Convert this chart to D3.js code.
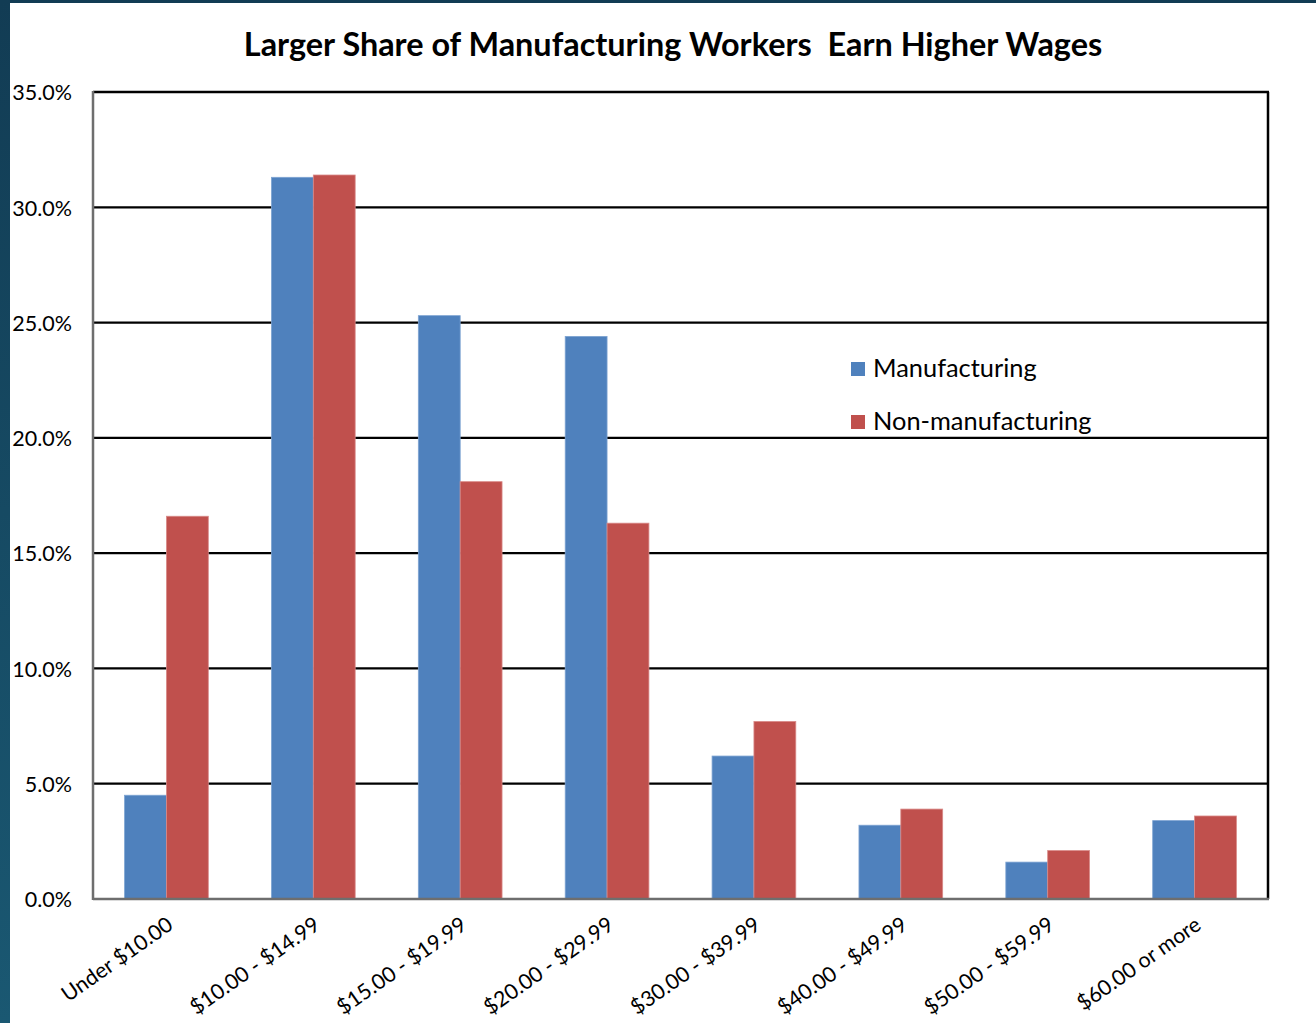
<!DOCTYPE html>
<html>
<head>
<meta charset="utf-8">
<script src="https://cdn.jsdelivr.net/npm/d3@7"></script>
<style>
  html, body { margin: 0; padding: 0; background: #fff; }
  svg { display: block; }
</style>
</head>
<body>
<svg id="chart" width="1316" height="1023"></svg>
<script>
// Hourly wage brackets and the share of workers in each
const categories = ["Under $10.00", "$10.00 - $14.99", "$15.00 - $19.99", "$20.00 - $29.99",
                    "$30.00 - $39.99", "$40.00 - $49.99", "$50.00 - $59.99", "$60.00 or more"];
const manufacturing    = [4.5, 31.3, 25.3, 24.4, 6.2, 3.2, 1.6, 3.4];
const nonManufacturing = [16.6, 31.4, 18.1, 16.3, 7.7, 3.9, 2.1, 3.6];
const seriesNames = ["Manufacturing", "Non-manufacturing"];
const yTicks = [0, 5, 10, 15, 20, 25, 30, 35];

const colors = ["#4F81BD", "#C0504D"];
const font = "Lato, 'Open Sans', sans-serif";

const svg = d3.select("#chart");
const W = 1316, H = 1023;
const m = { left: 93, right: 1268, top: 92, bottom: 899 };

// frame around the slide
const defs = svg.append("defs");
const grad = defs.append("linearGradient").attr("id", "edge").attr("x1", 0).attr("y1", 0).attr("x2", 0).attr("y2", 1);
grad.append("stop").attr("offset", "0%").attr("stop-color", "#123c54");
grad.append("stop").attr("offset", "100%").attr("stop-color", "#1a5872");
svg.append("rect").attr("width", W).attr("height", H).attr("fill", "url(#edge)");
svg.append("rect").attr("x", 10).attr("y", 3).attr("width", W - 10).attr("height", H - 3).attr("fill", "#fff");

const x0 = d3.scaleBand().domain(categories).range([m.left, m.right]).paddingInner(0.43).paddingOuter(0.215);
const x1 = d3.scaleBand().domain(seriesNames).range([0, x0.bandwidth()]);
const y = d3.scaleLinear().domain([0, 35]).range([m.bottom, m.top]);

// horizontal gridlines
svg.append("g").selectAll("line").data(yTicks.filter(t => t > 0 && t < 35)).join("line")
  .attr("x1", m.left).attr("x2", m.right)
  .attr("y1", d => y(d)).attr("y2", d => y(d))
  .attr("stroke", "#000").attr("stroke-width", 2.2);

// bars
const rows = categories.map((c, i) => ({ c, vals: [manufacturing[i], nonManufacturing[i]] }));
svg.append("g").selectAll("g").data(rows).join("g")
  .attr("transform", d => `translate(${x0(d.c)},0)`)
  .selectAll("rect").data(d => d.vals.map((v, k) => ({ v, k }))).join("rect")
  .attr("x", d => x1(seriesNames[d.k]))
  .attr("width", x1.bandwidth())
  .attr("y", d => y(d.v))
  .attr("height", d => y(0) - y(d.v))
  .attr("fill", d => colors[d.k])
  .attr("stroke", d => d.k === 0 ? "#7da3d2" : "#d98a88")
  .attr("stroke-width", 0.8);

// plot border: black top/right, grey axes left/bottom
svg.append("line").attr("x1", m.left).attr("x2", m.right + 1).attr("y1", m.top).attr("y2", m.top).attr("stroke", "#000").attr("stroke-width", 2.5);
svg.append("line").attr("x1", m.right).attr("x2", m.right).attr("y1", m.top).attr("y2", m.bottom).attr("stroke", "#000").attr("stroke-width", 2.5);
svg.append("line").attr("x1", m.left).attr("x2", m.right + 1).attr("y1", m.bottom).attr("y2", m.bottom).attr("stroke", "#6e6e6e").attr("stroke-width", 2.5);
svg.append("line").attr("x1", m.left).attr("x2", m.left).attr("y1", m.top - 1).attr("y2", m.bottom + 1).attr("stroke", "#6e6e6e").attr("stroke-width", 2.5);

// y axis labels
const yAxis = d3.axisLeft(y).tickValues(yTicks).tickFormat(d => d.toFixed(1) + "%").tickSize(0).tickPadding(0);
const ya = svg.append("g").attr("transform", "translate(72,0)").call(yAxis);
ya.select(".domain").remove();
ya.selectAll("text").attr("font-family", font).attr("font-size", 21.5).attr("fill", "#000").attr("dy", "0.36em");

// x axis labels, rotated
const xAxis = d3.axisBottom(x0).tickSize(0).tickPadding(0);
const xa = svg.append("g").attr("transform", `translate(0,${m.bottom})`).call(xAxis);
xa.select(".domain").remove();
xa.selectAll("text")
  .attr("font-family", font).attr("font-size", 21.3).attr("fill", "#000")
  .attr("text-anchor", "end").attr("dy", 0).attr("y", 0)
  .attr("transform", "translate(8,29) rotate(-35)");

// legend
const lg = svg.append("g");
seriesNames.forEach((s, i) => {
  const gy = 362 + i * 53;
  lg.append("rect").attr("x", 851).attr("y", gy).attr("width", 14).attr("height", 14).attr("fill", colors[i]);
  lg.append("text").attr("x", 873).attr("y", gy + 15).attr("font-family", font).attr("font-size", 25.4).attr("fill", "#000").text(s);
});

// title
svg.append("text").attr("x", 673).attr("y", 56).attr("text-anchor", "middle")
  .attr("font-family", font).attr("font-weight", "bold").attr("font-size", 32.4).attr("fill", "#000")
  .attr("xml:space", "preserve")
  .text("Larger Share of Manufacturing Workers  Earn Higher Wages");
</script>
</body>
</html>
